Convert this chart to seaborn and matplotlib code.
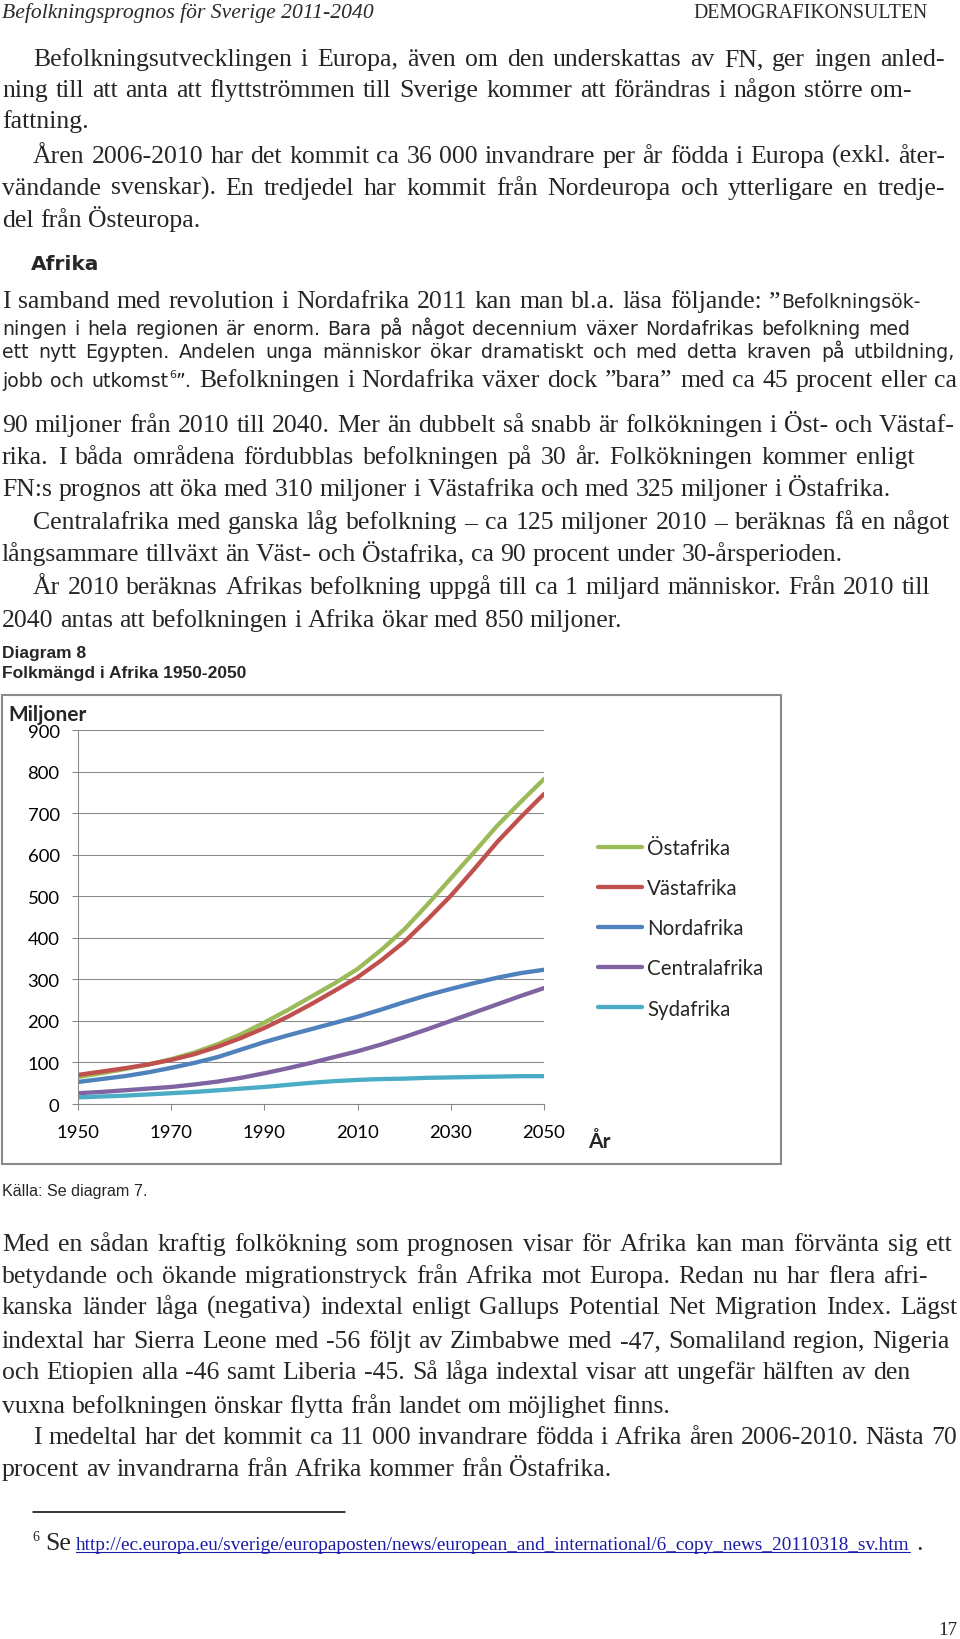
import matplotlib
matplotlib.use("Agg")
import matplotlib.pyplot as plt
from matplotlib.patches import Rectangle
import pandas as pd
import seaborn as sns

# ---- chart data (millions) ----
years = list(range(1950, 2051, 5))
ostafrika = [65, 74, 84, 95, 108, 124, 144, 168, 196, 226, 258, 290, 325, 370, 420, 480, 543, 606, 670, 727, 782]
vastafrika = [70, 78, 86, 95, 106, 120, 138, 159, 183, 210, 240, 272, 305, 345, 390, 444, 501, 565, 631, 690, 746]
nordafrika = [53, 60, 67, 76, 87, 99, 113, 131, 149, 165, 180, 195, 210, 227, 245, 262, 277, 291, 304, 315, 323]
centralafrika = [26, 29, 33, 37, 41, 47, 54, 63, 74, 86, 99, 113, 127, 143, 161, 180, 200, 220, 240, 260, 279]
sydafrika = [16, 18, 20, 23, 26, 29, 33, 37, 41, 46, 51, 55, 58, 60, 61, 63, 64, 65, 66, 67, 67]

regions = ["Östafrika", "Västafrika", "Nordafrika", "Centralafrika", "Sydafrika"]
colors = ["#9BBB59", "#C0504D", "#4F81BD", "#8064A2", "#4BACC6"]
x_ticks = [1950, 1970, 1990, 2010, 2030, 2050]
y_ticks = [0, 100, 200, 300, 400, 500, 600, 700, 800, 900]

LINK = "http://ec.europa.eu/sverige/europaposten/news/european_and_international/6_copy_news_20110318_sv.htm"

# page text: (baseline y, x start, justify-to x or None, segments)
PAGE_LINES = [
    (66, 33, 945, [("serif", "Befolkningsutvecklingen i Europa, även om den underskattas av FN, ger ingen anled-")]),
    (97, 2, 912, [("serif", "ning till att anta att flyttströmmen till Sverige kommer att förändras i någon större om-")]),
    (128, 2, None, [("serif", "fattning.")]),
    (163, 33, 945, [("serif", "Åren 2006-2010 har det kommit ca 36 000 invandrare per år födda i Europa (exkl. åter-")]),
    (195, 2, 945, [("serif", "vändande svenskar). En tredjedel har kommit från Nordeuropa och ytterligare en tredje-")]),
    (227, 2, None, [("serif", "del från Östeuropa.")]),
    (308, 2, 920, [("serif", "I samband med revolution i Nordafrika 2011 kan man bl.a. läsa följande: ”"), ("sans", "Befolkningsök-")]),
    (335, 2, 910, [("sans", "ningen i hela regionen är enorm. Bara på något decennium växer Nordafrikas befolkning med")]),
    (358, 2, 955, [("sans", "ett nytt Egypten. Andelen unga människor ökar dramatiskt och med detta kraven på utbildning,")]),
    (387, 2, 957, [("sans", "jobb och utkomst"), ("sup", "6"), ("sans", "”."),
                   ("serif", " Befolkningen i Nordafrika växer dock ”bara” med ca 45 procent eller ca")]),
    (432, 2, 955, [("serif", "90 miljoner från 2010 till 2040. Mer än dubbelt så snabb är folkökningen i Öst- och Västaf-")]),
    (464, 2, 915, [("serif", "rika. I båda områdena fördubblas befolkningen på 30 år. Folkökningen kommer enligt")]),
    (496, 2, None, [("serif", "FN:s prognos att öka med 310 miljoner i Västafrika och med 325 miljoner i Östafrika.")]),
    (529, 33, 950, [("serif", "Centralafrika med ganska låg befolkning – ca 125 miljoner 2010 – beräknas få en något")]),
    (561, 2, None, [("serif", "långsammare tillväxt än Väst- och Östafrika, ca 90 procent under 30-årsperioden.")]),
    (594, 33, 930, [("serif", "År 2010 beräknas Afrikas befolkning uppgå till ca 1 miljard människor. Från 2010 till")]),
    (627, 2, None, [("serif", "2040 antas att befolkningen i Afrika ökar med 850 miljoner.")]),
    (1251, 2, 952, [("serif", "Med en sådan kraftig folkökning som prognosen visar för Afrika kan man förvänta sig ett")]),
    (1283, 2, 928, [("serif", "betydande och ökande migrationstryck från Afrika mot Europa. Redan nu har flera afri-")]),
    (1314, 2, 957, [("serif", "kanska länder låga (negativa) indextal enligt Gallups Potential Net Migration Index. Lägst")]),
    (1348, 2, 950, [("serif", "indextal har Sierra Leone med -56 följt av Zimbabwe med -47, Somaliland region, Nigeria")]),
    (1379, 2, 910, [("serif", "och Etiopien alla -46 samt Liberia -45. Så låga indextal visar att ungefär hälften av den")]),
    (1413, 2, None, [("serif", "vuxna befolkningen önskar flytta från landet om möjlighet finns.")]),
    (1444, 33, 957, [("serif", "I medeltal har det kommit ca 11 000 invandrare födda i Afrika åren 2006-2010. Nästa 70")]),
    (1476, 2, None, [("serif", "procent av invandrarna från Afrika kommer från Östafrika.")]),
    (1550, 32, None, [("fsup", "6"), ("serif", " Se"), ("link", " " + LINK), ("serif", " .")]),
]

STYLES = {
    "serif": dict(fontfamily="Liberation Serif", fontsize=18.5),
    "sans": dict(fontfamily="DejaVu Sans", fontsize=13.6),
    "sup": dict(fontfamily="DejaVu Sans", fontsize=8),
    "fsup": dict(fontfamily="Liberation Serif", fontsize=10),
    "link": dict(fontfamily="Liberation Serif", fontsize=13.9, color="#1a1aa8"),
}
RAISE = {"sup": -9, "fsup": -9}

W, H = 960, 1640
sns.set_style("white")
plt.rcParams["font.family"] = ["Lato", "DejaVu Sans"]

fig = plt.figure(figsize=(W / 100, H / 100), dpi=100)
fig.patch.set_facecolor("white")
page = fig.add_axes([0, 0, 1, 1], zorder=0)
page.set_xlim(0, W)
page.set_ylim(H, 0)
page.axis("off")
renderer = fig.canvas.get_renderer()


def text_width(t):
    return t.get_window_extent(renderer).width


space = {}
for name, st in STYLES.items():
    a = page.text(0, 0, "n n", **st)
    b = page.text(0, 0, "nn", **st)
    space[name] = text_width(a) - text_width(b)
    a.remove()
    b.remove()


def put_line(y, x0, x1, segments):
    toks = []
    for style, txt in segments:
        for i, w in enumerate(txt.split(" ")):
            if w:
                toks.append((w, style, i == 0 and len(toks) > 0))
    arts = [page.text(x0, y + RAISE.get(s, 0), w, va="baseline", ha="left", **STYLES[s])
            for w, s, _ in toks]
    widths = [text_width(a) for a in arts]
    n_gaps = sum(1 for t in toks[1:] if not t[2])
    justify = x1 is not None and n_gaps > 0
    if justify:
        gap = (x1 - x0 - sum(widths)) / n_gaps
    x = x0
    placed = []
    for k, (a, (w, s, glue)) in enumerate(zip(arts, toks)):
        if k > 0 and not glue:
            x += gap if justify else space[s]
        a.set_x(x)
        placed.append((s, x, widths[k]))
        x += widths[k]
    return placed


# header
page.text(2, 18, "Befolkningsprognos för Sverige 2011-2040", fontfamily="Liberation Serif",
          fontstyle="italic", fontsize=15.6, color="#2a2a2a", va="baseline")
page.text(928, 18, "DEMOGRAFIKONSULTEN", fontfamily="Liberation Serif", fontsize=14.2,
          color="#2a2a2a", va="baseline", ha="right")
page.text(31, 270, "Afrika", fontfamily="DejaVu Sans", fontweight="bold", fontsize=14.5, va="baseline")

for y, x0, x1, segs in PAGE_LINES:
    placed = put_line(y, x0, x1, segs)
    for s, x, w in placed:
        if s == "link":
            page.plot([x, x + w], [y + 3, y + 3], color="#1a1aa8", lw=0.8)

# footnote rule and page number
page.plot([33, 345], [1513, 1513], color="black", lw=1.1)
page.text(957, 1635, "17", fontfamily="Liberation Serif", fontsize=13.8, ha="right", va="baseline")

# diagram captions
page.text(2, 658, "Diagram 8", fontfamily="Liberation Sans", fontweight="bold", fontsize=12.5, va="baseline")
page.text(2, 678, "Folkmängd i Afrika 1950-2050", fontfamily="Liberation Sans", fontweight="bold",
          fontsize=12.5, va="baseline")
page.text(2, 1196, "Källa: Se diagram 7.", fontfamily="Liberation Sans", fontsize=11.6, va="baseline")

# chart frame
page.add_patch(Rectangle((2, 696), 779, 469, fill=False, edgecolor="#8a8a8a", lw=1.5))
page.text(8, 715, "Miljoner", fontfamily="Lato", fontweight="bold", fontsize=15, va="center")
page.text(588, 1142, "År", fontfamily="Lato", fontweight="bold", fontsize=15, va="center")

# ---- the chart ----
df = pd.DataFrame({
    "År": years * len(regions),
    "Miljoner": ostafrika + vastafrika + nordafrika + centralafrika + sydafrika,
    "Region": [r for r in regions for _ in years],
})

ax = fig.add_axes([78 / W, 1 - 1105 / H, (544 - 78) / W, (1105 - 731) / H], zorder=1)
ax.patch.set_alpha(0)
sns.lineplot(data=df, x="År", y="Miljoner", hue="Region", hue_order=regions,
             palette=colors, linewidth=3.1, ax=ax)
for line in ax.get_lines():
    line.set_solid_capstyle("round")

ax.set_xlim(1950, 2050)
ax.set_ylim(0, 900)
ax.set_xticks(x_ticks)
ax.set_yticks(y_ticks)
ax.set_xlabel("")
ax.set_ylabel("")
ax.yaxis.grid(True, color="#878787", lw=0.75)
ax.xaxis.grid(False)
ax.set_axisbelow(True)
for side in ["top", "right"]:
    ax.spines[side].set_visible(False)
for side in ["left", "bottom"]:
    ax.spines[side].set_color("#878787")
    ax.spines[side].set_linewidth(0.75)
ax.tick_params(axis="both", colors="#878787", labelcolor="black", labelsize=13.3,
               length=4.3, width=0.75, direction="out", left=True, bottom=True)
ax.tick_params(axis="y", pad=9)
ax.tick_params(axis="x", pad=10)

handles, labels = ax.get_legend_handles_labels()
leg = ax.legend(handles, labels, loc="upper left", bbox_to_anchor=(598 / W, 1 - 839 / H),
                bbox_transform=fig.transFigure, frameon=False, prop=dict(family="Lato", size=14.8),
                handlelength=2.15, handletextpad=0.25, labelspacing=0.98, borderpad=0, borderaxespad=0)
for line in leg.get_lines():
    line.set_linewidth(3.1)
    line.set_solid_capstyle("round")

fig.savefig("out.png", dpi=100, facecolor="white")
